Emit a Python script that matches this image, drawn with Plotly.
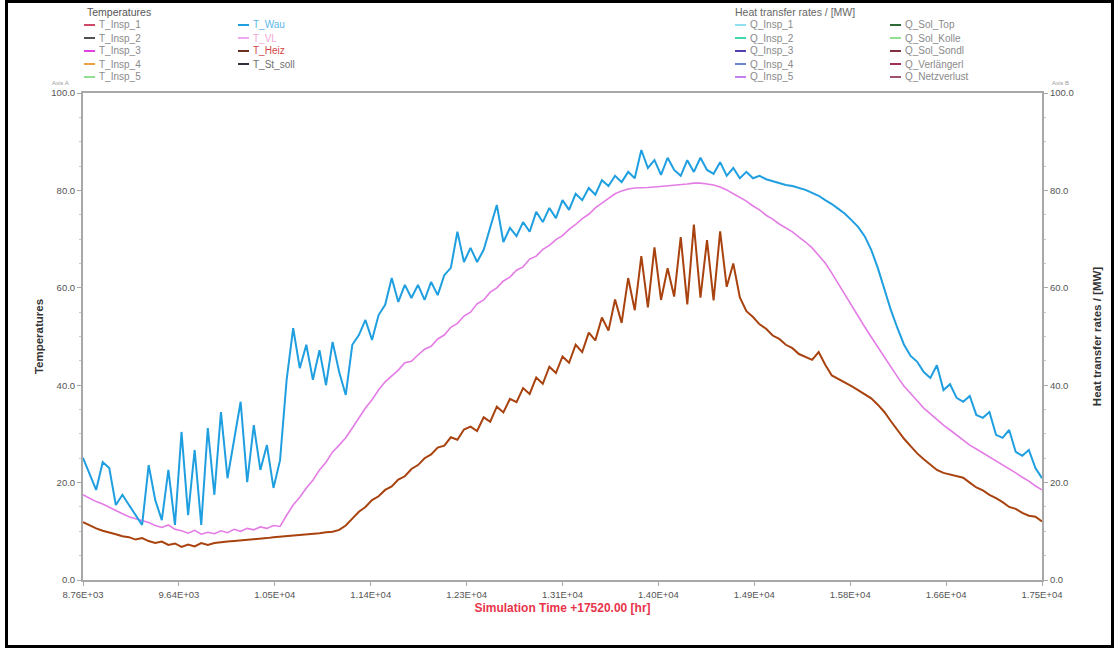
import plotly.graph_objects as go

# Simulation time axis (hours), one sample every 60 h over the second year
hours = list(range(8760, 17521, 60))

t_wau = [
    25.1, 21.6, 18.5, 24.2, 23.0, 15.4, 17.5, 15.4, 13.3, 11.3,
    23.6, 16.4, 12.3, 22.6, 11.3, 30.4, 13.3, 26.7, 11.3, 31.2,
    17.5, 34.5, 20.9, 28.7, 36.6, 20.1, 31.8, 22.6, 27.7, 18.9,
    24.6, 41.1, 51.7, 43.5, 48.3, 41.1, 47.2, 40.0, 48.9, 42.7,
    38.0, 48.3, 50.3, 53.4, 49.3, 54.4, 56.5, 62.0, 57.1, 60.6,
    57.9, 60.6, 57.5, 61.2, 58.5, 62.6, 64.1, 71.5, 65.3, 68.2,
    65.3, 67.8, 72.3, 77.0, 69.4, 72.3, 70.6, 73.5, 71.5, 75.6,
    73.5, 76.4, 74.3, 78.0, 76.0, 79.3, 78.0, 80.5, 79.1, 82.1,
    80.9, 83.0, 81.7, 83.8, 82.5, 88.3, 84.6, 86.2, 83.2, 86.7,
    84.2, 83.0, 86.2, 83.8, 86.7, 84.2, 83.4, 85.8, 83.0, 84.6,
    82.5, 83.8, 82.5, 83.0, 82.3, 81.9, 81.5, 81.1, 80.9, 80.5,
    80.1, 79.5, 78.9, 78.0, 77.2, 76.2, 75.2, 73.9, 72.5, 70.6,
    67.8, 64.1, 59.5, 55.4, 51.7, 48.3, 46.0, 44.8, 42.7, 41.5,
    44.1, 39.0, 40.2, 37.4, 36.6, 37.8, 33.9, 33.3, 34.5, 29.8,
    29.2, 30.8, 26.3, 25.5, 26.7, 23.0, 20.9,
]

t_vl = [
    17.5, 16.8, 16.1, 15.6, 14.9, 14.2, 13.6, 13.0, 12.6, 12.1,
    11.8, 11.2, 10.8, 11.3, 10.4, 10.1, 9.6, 10.2, 9.4, 9.8,
    9.5, 10.1, 9.7, 10.4, 10.0, 10.6, 10.3, 10.9, 10.6, 11.2,
    11.0, 13.3, 15.4, 17.0, 18.9, 20.5, 22.6, 24.2, 26.3, 27.7,
    29.2, 31.2, 33.3, 35.3, 37.0, 39.0, 40.7, 41.9, 43.1, 44.6,
    44.9, 46.2, 47.4, 48.0, 49.5, 50.3, 51.9, 52.7, 54.2, 55.0,
    56.7, 57.5, 59.1, 60.0, 61.4, 62.2, 63.6, 64.3, 65.9, 66.5,
    67.9, 68.7, 69.9, 70.7, 72.0, 73.0, 74.2, 75.1, 76.4, 77.4,
    78.4, 79.3, 79.9, 80.3, 80.5, 80.5, 80.6, 80.7, 80.8, 80.9,
    81.1, 81.1, 81.3, 81.5, 81.5, 81.3, 81.1, 80.7, 80.1, 79.3,
    78.6, 77.8, 76.8, 76.0, 74.9, 74.1, 73.1, 72.3, 71.5, 70.4,
    69.4, 68.2, 66.7, 65.1, 63.0, 60.8, 58.5, 56.3, 54.0, 52.0,
    49.9, 47.8, 45.8, 43.7, 41.7, 39.8, 38.2, 36.8, 35.3, 34.1,
    32.9, 31.8, 30.8, 29.8, 28.7, 27.7, 26.9, 26.1, 25.3, 24.4,
    23.6, 22.8, 22.0, 21.1, 20.3, 19.3, 18.5,
]

t_heiz = [
    11.9, 11.2, 10.6, 10.1, 9.8, 9.4, 9.0, 8.8, 8.3, 8.6,
    8.0, 7.6, 7.9, 7.2, 7.5, 6.8, 7.3, 6.9, 7.6, 7.2,
    7.6, 7.8, 7.9, 8.0, 8.1, 8.2, 8.4, 8.5, 8.6, 8.8,
    8.9, 9.0, 9.1, 9.2, 9.4, 9.5, 9.6, 9.8, 9.9, 10.3,
    11.2, 12.6, 14.0, 15.0, 16.4, 17.2, 18.5, 19.2, 20.6, 21.3,
    22.8, 23.6, 25.0, 25.8, 27.2, 27.6, 29.3, 28.8, 30.9, 31.5,
    30.6, 33.4, 32.5, 35.6, 34.4, 37.2, 36.5, 39.4, 38.2, 41.6,
    40.3, 43.8, 42.5, 45.9, 44.6, 48.3, 46.8, 50.8, 49.2, 53.9,
    51.2, 57.6, 52.8, 62.0, 55.4, 66.5, 56.0, 68.3, 57.5, 64.0,
    58.2, 70.4, 56.6, 73.0, 58.0, 69.8, 57.4, 71.6, 60.2, 65.0,
    58.0, 55.2, 54.0, 52.5, 51.6, 50.2, 49.5, 48.3, 47.6, 46.4,
    45.8, 45.2, 46.8, 44.2, 42.0, 41.3, 40.5, 39.8, 39.0, 38.2,
    37.3, 36.0, 34.5, 32.6, 30.8, 29.0, 27.5, 26.0, 24.8, 23.6,
    22.6, 22.0, 21.7, 21.4, 21.0, 20.0, 19.0, 18.4, 17.5, 16.8,
    16.0, 15.0, 14.6, 13.8, 13.2, 13.0, 12.0,
]

x_tickvals = [8760, 9636, 10512, 11388, 12264, 13140, 14016, 14892, 15768, 16644, 17520]
x_ticktext = ["8.76E+03", "9.64E+03", "1.05E+04", "1.14E+04", "1.23E+04", "1.31E+04",
              "1.40E+04", "1.49E+04", "1.58E+04", "1.66E+04", "1.75E+04"]
y_tickvals = [0, 20, 40, 60, 80, 100]
y_ticktext = ["0.0", "20.0", "40.0", "60.0", "80.0", "100.0"]

# Legend blocks: names, line colours, text colours
temp_col1 = ["T_Insp_1", "T_Insp_2", "T_Insp_3", "T_Insp_4", "T_Insp_5"]
temp_col1_colors = ["#d04868", "#505050", "#e040e0", "#f0a040", "#90e090"]
temp_col2 = ["T_Wau", "T_VL", "T_Heiz", "T_St_soll"]
temp_col2_colors = ["#1f9fe0", "#f0a8f0", "#6a3020", "#303040"]
temp_col2_text = ["#5ab8e8", "#f0a8d8", "#d04848", "#707070"]
heat_col1 = ["Q_Insp_1", "Q_Insp_2", "Q_Insp_3", "Q_Insp_4", "Q_Insp_5"]
heat_col1_colors = ["#90e0f0", "#40d8b0", "#5040b0", "#6888c8", "#c080f0"]
heat_col2 = ["Q_Sol_Top", "Q_Sol_Kolle", "Q_Sol_Sondl", "Q_Verlängerl", "Q_Netzverlust"]
heat_col2_colors = ["#306838", "#90e090", "#803040", "#a03050", "#a05070"]

W, H = 1117, 648
L, R, T, B = 83, 1042, 93, 580


def px(x):
    return (x - L) / (R - L)


def py(y):
    return (B - y) / (B - T)


fig = go.Figure()
fig.add_trace(go.Scatter(x=hours, y=t_heiz, mode="lines", name="T_Heiz",
                         line=dict(color="#a8420e", width=2)))
fig.add_trace(go.Scatter(x=hours, y=t_vl, mode="lines", name="T_VL",
                         line=dict(color="#e47ce6", width=1.6)))
fig.add_trace(go.Scatter(x=hours, y=t_wau, mode="lines", name="T_Wau",
                         line=dict(color="#1f9fe0", width=2)))
# secondary axis carrier (heat transfer rates)
fig.add_trace(go.Scatter(x=[hours[0]], y=[None], yaxis="y2", showlegend=False,
                         hoverinfo="skip"))

shapes = []
annotations = []

font_family = "Liberation Sans, Arial, sans-serif"


def legend_block(names, colors, text_colors, x_line, y_rows):
    for n, c, tc, y in zip(names, colors, text_colors, y_rows):
        shapes.append(dict(type="line", xref="paper", yref="paper",
                           x0=px(x_line), x1=px(x_line + 11), y0=py(y), y1=py(y),
                           line=dict(color=c, width=2)))
        annotations.append(dict(xref="paper", yref="paper", x=px(x_line + 13), y=py(y),
                                text=n, showarrow=False, xanchor="left", yanchor="middle",
                                font=dict(size=10, color=tc, family=font_family)))


rows = [25, 38, 51, 64, 77]
legend_block(temp_col1, temp_col1_colors, ["#8a8a8a"] * 5, 84, rows)
legend_block(temp_col2, temp_col2_colors, temp_col2_text, 238, rows[:4])
legend_block(heat_col1, heat_col1_colors, ["#8a8a8a"] * 5, 735, rows)
legend_block(heat_col2, heat_col2_colors, ["#8a8a8a"] * 5, 890, rows)

annotations.append(dict(xref="paper", yref="paper", x=px(85), y=py(12), text="Temperatures",
                        showarrow=False, xanchor="left", yanchor="middle",
                        font=dict(size=10.5, color="#555555", family=font_family)))
annotations.append(dict(xref="paper", yref="paper", x=px(733), y=py(12),
                        text="Heat transfer rates / [MW]",
                        showarrow=False, xanchor="left", yanchor="middle",
                        font=dict(size=10.5, color="#666666", family=font_family)))
annotations.append(dict(xref="paper", yref="paper", x=px(50), y=py(83), text="Axis A",
                        showarrow=False, xanchor="left", yanchor="middle",
                        font=dict(size=6, color="#9a9a9a", family=font_family)))
annotations.append(dict(xref="paper", yref="paper", x=px(1050), y=py(83), text="Axis B",
                        showarrow=False, xanchor="left", yanchor="middle",
                        font=dict(size=6, color="#9a9a9a", family=font_family)))

# black frame around the whole page
shapes.append(dict(type="rect", xref="paper", yref="paper",
                   x0=px(6.5), x1=px(1112.5), y0=py(646.5), y1=py(1.5),
                   line=dict(color="#000000", width=3), layer="above"))

axis_common = dict(showgrid=False, zeroline=False, showline=True, linecolor="#a8a8a8",
                   linewidth=2, ticks="outside", ticklen=4, tickcolor="#a8a8a8",
                   tickfont=dict(size=9.5, color="#555555", family=font_family))

fig.update_layout(
    width=W, height=H,
    margin=dict(l=L, r=W - R, t=T, b=H - B, pad=0),
    paper_bgcolor="white", plot_bgcolor="white",
    showlegend=False,
    xaxis=dict(range=[8760, 17520], tickvals=x_tickvals, ticktext=x_ticktext,
               mirror=True, ticklabelstandoff=1,
               title=dict(text="<b>Simulation Time +17520.00 [hr]</b>", standoff=4,
                          font=dict(size=12, color="#e8344a", family=font_family)),
               **axis_common),
    yaxis=dict(range=[0, 100], tickvals=y_tickvals, ticktext=y_ticktext,
               mirror=True,
               minor=dict(ticks="outside", ticklen=2, dtick=5, tickcolor="#c8c8c8"),
               title=dict(text="<b>Temperatures</b>", standoff=5,
                          font=dict(size=11.5, color="#333333", family=font_family)),
               **axis_common),
    yaxis2=dict(range=[0, 100], tickvals=y_tickvals, ticktext=y_ticktext,
                overlaying="y", side="right",
                minor=dict(ticks="outside", ticklen=2, dtick=5, tickcolor="#c8c8c8"),
                title=dict(text="<b>Heat transfer rates / [MW]</b>", standoff=20,
                           font=dict(size=11.5, color="#333333", family=font_family)),
                **axis_common),
    shapes=shapes,
    annotations=annotations,
)

fig.write_html("out.html")
